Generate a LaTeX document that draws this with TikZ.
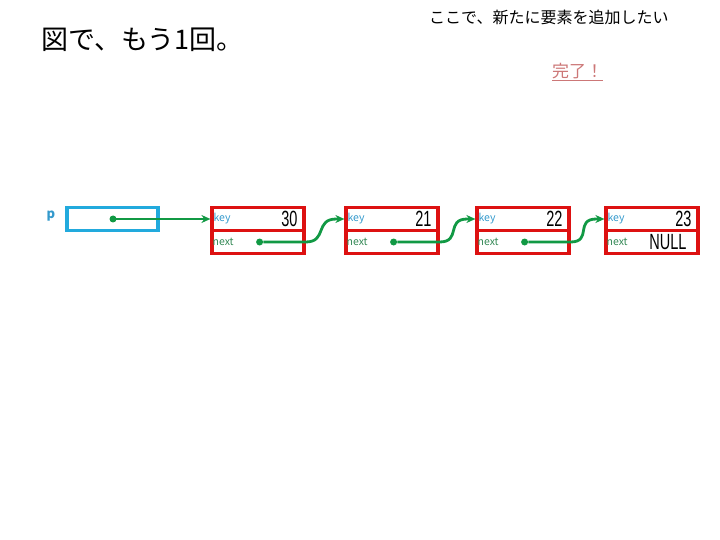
\documentclass[tikz,border=0pt]{standalone}
\usepackage{fontspec}
\setmainfont{Noto Sans CJK JP}
\newfontfamily\numfont{Liberation Sans}[FakeStretch=0.66]
\usetikzlibrary{arrows.meta}
\definecolor{boxred}{HTML}{DD1111}
\definecolor{boxblue}{HTML}{22AADD}
\definecolor{linkgreen}{HTML}{119944}
\definecolor{keyblue}{HTML}{3399CC}
\definecolor{nextgreen}{HTML}{338855}
\definecolor{donepink}{HTML}{CC7777}
\begin{document}
\begin{tikzpicture}[x=1pt,y=-1pt,
  cell/.style={draw=boxred,line width=3.2pt,minimum width=92pt,minimum height=23.5pt,inner sep=0pt},
  pcell/.style={draw=boxblue,line width=3.2pt,minimum width=91pt,minimum height=23pt,inner sep=0pt},
  lbl/.style={font=\fontsize{10.5}{11}\selectfont,anchor=west,inner sep=0pt},
  val/.style={font=\fontsize{22}{24}\selectfont,anchor=east,inner sep=0pt},
  link/.style={draw=linkgreen,line width=2.8pt,-{Stealth[length=9pt,width=8pt]}},
  dot/.style={circle,fill=linkgreen,inner sep=0pt,minimum size=7pt}]
\useasboundingbox (0,0) rectangle (720,540);
\node[font=\fontsize{27}{29}\selectfont,anchor=west,inner sep=0pt] (title) at (41,40) {図で、もう1回。};
\node[font=\fontsize{16}{18}\selectfont,anchor=west,inner sep=0pt] (note) at (429,17) {ここで、新たに要素を追加したい};
\node[font=\fontsize{17}{18}\selectfont,text=donepink,anchor=west,inner sep=0pt] (done) at (552,72) {\underline{完了！}};
\node[text=keyblue,font=\bfseries\fontsize{13}{14}\selectfont,inner sep=0pt] (p) at (51,216) {p};
\node[pcell] (pbox) at (112.5,219) {};
\node[dot] (pdot) at (113,219) {};
\foreach \i/\x/\v in {1/258/30,2/392/21,3/523/22,4/652/23}{
  \node[cell] (k\i) at (\x,219) {};
  \node[cell] (n\i) at (\x,242) {};
  \node[lbl,text=keyblue] (kl\i) at ([xshift=3pt]k\i.west) {key};
  \node[lbl,text=nextgreen] (nl\i) at ([xshift=2pt]n\i.west) {next};
  \node[val] (kv\i) at ([xshift=-8pt]k\i.east) {\numfont\v};
}
\node[val] (null) at ([xshift=-13pt]n4.east) {\numfont NULL};
\foreach \i in {1,2,3}{
  \node[dot] (nd\i) at ([xshift=-46pt]n\i.east) {};
}
\draw[link] (pdot.center) -- (k1.west);
\foreach \i/\j in {1/2,2/3,3/4}{
  \draw[link] (nd\i) -- (n\i.east) .. controls ([xshift=22pt]n\i.east) and ([xshift=-30pt]k\j.west) .. ([xshift=-8pt]k\j.west) -- (k\j.west);
}
\end{tikzpicture}
\end{document}
